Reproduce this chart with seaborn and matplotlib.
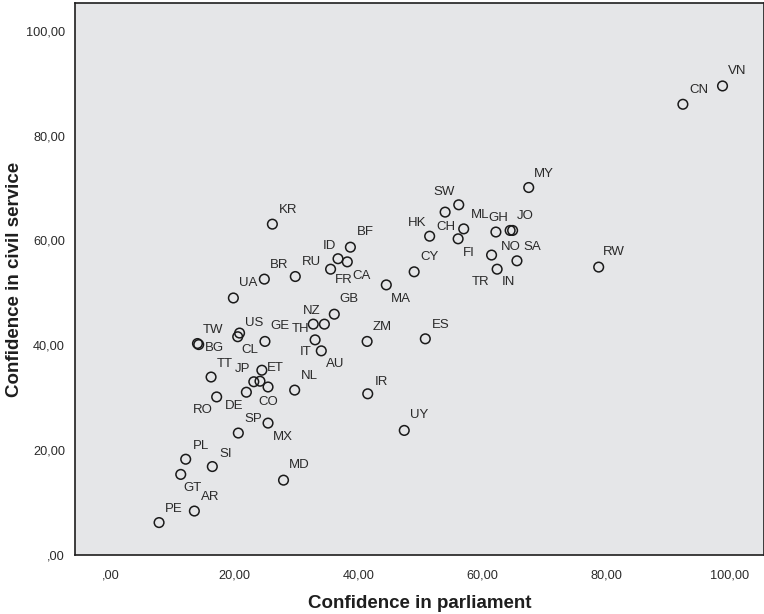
import numpy as np
import pandas as pd
import matplotlib.pyplot as plt
import seaborn as sns
from matplotlib.ticker import FuncFormatter, MultipleLocator

# country codes (the '' one is a point SPSS left without a visible label)
countries = ['VN', 'CN', 'RW', 'MY', 'SW', 'HK', 'CH', 'ML', 'GH', 'JO',
             'NO', 'SA', 'FI', 'TR', 'IN', 'CY', 'MA', 'KR', 'BF', 'ID',
             'RU', 'BR', 'CA', 'FR', 'UA', 'GB', 'NZ', 'TH', 'GE', 'IT',
             'AU', 'ZM', 'ES', 'TW', 'BG', 'US', 'CL', 'TT', 'JP', 'ET',
             '', 'CO', 'DE', 'RO', 'NL', 'IR', 'SP', 'MX', 'UY', 'PL',
             'SI', 'MD', 'GT', 'AR', 'PE']

parliament = [98.8, 92.4, 78.8, 67.5, 56.2, 51.5, 54.0, 57.0, 64.9, 64.5,
              62.2, 65.6, 56.1, 62.4, 61.5, 49.0, 44.5, 26.1, 38.7, 36.7,
              29.8, 24.8, 38.2, 35.5, 19.8, 36.1, 34.5, 32.7, 24.9, 33.0,
              34.0, 41.4, 50.8, 14.0, 14.2, 20.5, 20.8, 16.2, 23.1, 24.1,
              24.4, 25.4, 21.9, 17.1, 29.7, 41.5, 20.6, 25.4, 47.4, 12.1,
              16.4, 27.9, 11.3, 13.5, 7.8]

civil_service = [89.5, 86.0, 54.9, 70.1, 66.8, 60.8, 65.4, 62.2, 61.9, 61.9,
                 61.6, 56.1, 60.3, 54.5, 57.2, 54.0, 51.5, 63.1, 58.7, 56.5,
                 53.1, 52.6, 55.9, 54.5, 49.0, 45.9, 44.0, 44.0, 40.7, 41.0,
                 38.9, 40.7, 41.2, 40.3, 40.1, 41.6, 42.3, 33.9, 33.0, 33.1,
                 35.2, 32.0, 31.0, 30.1, 31.4, 30.7, 23.2, 25.1, 23.7, 18.2,
                 16.8, 14.2, 15.3, 8.3, 6.1]

# label placement relative to the point, in pixels (right, up)
label_dx = [15, 16, 15, 15, -15, -13, 1, 16, -14, 15,
            15, 15, 11, -17, 17, 15, 15, 16, 15, -9,
            16, 15, 14, 13, 15, 15, -13, -13, 15, -9,
            14, 15, 15, 16, 16, 16, 10, 14, -11, 15,
            0, 0, -12, -14, 15, 14, 15, 15, 15, 15,
            13, 16, 12, 16, 15]
label_dy = [15, 14, 15, 14, 13, 13, -15, 14, 12, 14,
            -15, 14, -14, -13, -27, 15, -14, 14, 15, 13,
            15, 14, -14, -11, 15, 15, 13, -5, 15, -12,
            -13, 14, 14, 14, -3, 14, -17, 13, 13, 13,
            0, -15, -14, -13, 14, 12, 14, -14, 15, 13,
            13, 15, -14, 14, 14]

df = pd.DataFrame({'country': countries,
                   'parliament': parliament,
                   'civil': civil_service})

sns.set_style('white', {'axes.facecolor': '#e5e6e8',
                        'axes.edgecolor': '#1e1e1e'})
plt.rcParams['font.family'] = ['Liberation Sans', 'DejaVu Sans']

fig = plt.figure(figsize=(7.64, 6.14), dpi=100)
ax = fig.add_axes([0.0988, 0.0969, 0.9012, 0.8974])

sns.scatterplot(data=df, x='parliament', y='civil', ax=ax, s=48,
                facecolor='none', edgecolor='#1a1a1a', linewidth=1.1,
                zorder=3)

for name, px, cs, dx, dy in zip(countries, parliament, civil_service,
                                label_dx, label_dy):
    if name:
        ax.annotate(name, (px, cs), xytext=(dx, dy),
                    textcoords='offset pixels', ha='center', va='center',
                    fontsize=9.5, color='#2a2a2a')

ax.set_xlim(-5.7, 105.5)
ax.set_ylim(0, 105.25)
ax.xaxis.set_major_locator(MultipleLocator(20))
ax.yaxis.set_major_locator(MultipleLocator(20))


def spss_fmt(v, pos):
    s = f'{v:.2f}'.replace('.', ',')
    if s.startswith('0,'):
        s = s[1:]
    return s


ax.xaxis.set_major_formatter(FuncFormatter(spss_fmt))
ax.yaxis.set_major_formatter(FuncFormatter(spss_fmt))
ax.tick_params(axis='both', direction='out', length=6.5, width=1.3,
               color='#1e1e1e', labelsize=9.2, labelcolor='#2a2a2a')
ax.tick_params(axis='x', pad=4)
ax.tick_params(axis='y', pad=1)
for sp in ax.spines.values():
    sp.set_linewidth(1.2)

ax.set_xlabel('Confidence in parliament', fontsize=13.5, fontweight='bold',
              color='#1e1e1e', labelpad=10)
ax.set_ylabel('Confidence in civil service', fontsize=13.5,
              fontweight='bold', color='#1e1e1e', labelpad=2)

fig.savefig('out.png', dpi=100)
